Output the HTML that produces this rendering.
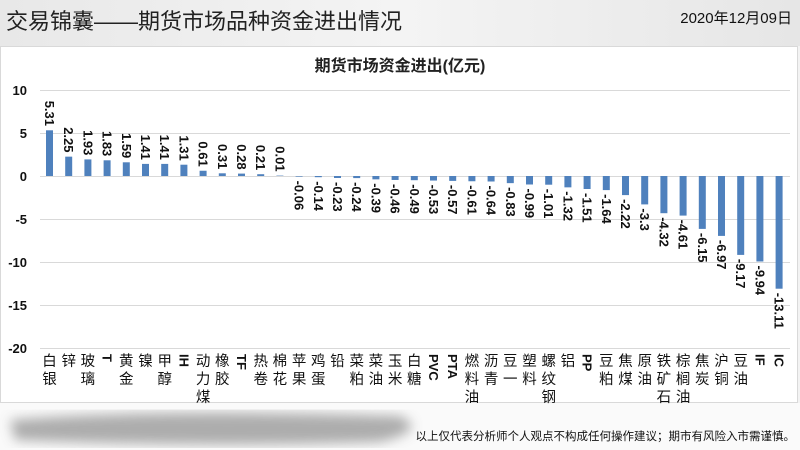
<!DOCTYPE html>
<html><head><meta charset="utf-8"><style>
html,body{margin:0;padding:0;width:800px;height:450px;overflow:hidden;background:#f3f3f3;font-family:"Liberation Sans","Noto Sans CJK SC",sans-serif}
</style></head><body>
<svg width="800" height="450" xmlns="http://www.w3.org/2000/svg" style="position:absolute;left:0;top:0">
<defs>
<linearGradient id="hd" x1="0" x2="1"><stop offset="0" stop-color="#e8e8e8"/><stop offset=".5" stop-color="#f4f4f4"/><stop offset="1" stop-color="#e6e6e6"/></linearGradient>
<filter id="bl"><feGaussianBlur stdDeviation="6"/></filter>
</defs>
<rect x="0" y="0" width="800" height="46" fill="url(#hd)"/>
<rect x="0" y="403" width="800" height="47" fill="#fafafa"/>
<path d="M10 420 Q150 408 400 416 Q430 430 380 442 Q200 448 15 440 Z" fill="#9a9a9a" filter="url(#bl)" opacity=".8"/>
<text x="6" y="29" font-size="22" fill="#222" font-family="Liberation Sans,Noto Sans CJK SC,sans-serif">交易锦囊——期货市场品种资金进出情况</text>
<text x="792" y="23" font-size="15" fill="#111" text-anchor="end">2020年12月09日</text>
<text x="795" y="440" font-size="11.5" fill="#111" text-anchor="end">以上仅代表分析师个人观点不构成任何操作建议；期市有风险入市需谨慎。</text>
<rect x="0.5" y="46.5" width="797" height="356" fill="#fff" stroke="#d9d9d9"/>
<text x="400" y="71" font-size="16" font-weight="bold" text-anchor="middle" fill="#222">期货市场资金进出(亿元)</text>
<g stroke="#d9d9d9" stroke-width="1">
<line x1="40" x2="790" y1="90.5" y2="90.5"/><line x1="40" x2="790" y1="133.5" y2="133.5"/><line x1="40" x2="790" y1="176.5" y2="176.5"/><line x1="40" x2="790" y1="219.5" y2="219.5"/><line x1="40" x2="790" y1="262.5" y2="262.5"/><line x1="40" x2="790" y1="305.5" y2="305.5"/><line x1="40" x2="790" y1="348.5" y2="348.5"/>
</g>
<g font-size="13" font-weight="bold" text-anchor="end" fill="#111">
<text x="27" y="95">10</text><text x="27" y="138">5</text><text x="27" y="181">0</text><text x="27" y="224">-5</text><text x="27" y="267">-10</text><text x="27" y="310">-15</text><text x="27" y="353">-20</text>
</g>
<g fill="#4f81bd">
<rect x="46" y="130.3" width="7" height="45.7"/>
<rect x="65.2" y="156.65" width="7" height="19.35"/>
<rect x="84.4" y="159.4" width="7" height="16.6"/>
<rect x="103.6" y="160.3" width="7" height="15.7"/>
<rect x="122.8" y="162.3" width="7" height="13.7"/>
<rect x="142" y="163.9" width="7" height="12.1"/>
<rect x="161.2" y="163.9" width="7" height="12.1"/>
<rect x="180.4" y="164.7" width="7" height="11.3"/>
<rect x="199.6" y="170.75" width="7" height="5.25"/>
<rect x="218.8" y="173.3" width="7" height="2.7"/>
<rect x="238" y="173.6" width="7" height="2.4"/>
<rect x="257.2" y="174.2" width="7" height="1.8"/>
<rect x="276.4" y="175.6" width="7" height="0.4"/>
<rect x="295.6" y="176" width="7" height="0.6"/>
<rect x="314.8" y="176" width="7" height="1.2"/>
<rect x="334" y="176" width="7" height="2"/>
<rect x="353.2" y="176" width="7" height="2.1"/>
<rect x="372.4" y="176" width="7" height="3.35"/>
<rect x="391.6" y="176" width="7" height="3.96"/>
<rect x="410.8" y="176" width="7" height="4.2"/>
<rect x="430" y="176" width="7" height="4.56"/>
<rect x="449.2" y="176" width="7" height="4.9"/>
<rect x="468.4" y="176" width="7" height="5.25"/>
<rect x="487.6" y="176" width="7" height="5.5"/>
<rect x="506.8" y="176" width="7" height="7.14"/>
<rect x="526" y="176" width="7" height="8.5"/>
<rect x="545.2" y="176" width="7" height="8.7"/>
<rect x="564.4" y="176" width="7" height="11.35"/>
<rect x="583.6" y="176" width="7" height="13"/>
<rect x="602.8" y="176" width="7" height="14.1"/>
<rect x="622" y="176" width="7" height="19.1"/>
<rect x="641.2" y="176" width="7" height="28.4"/>
<rect x="660.4" y="176" width="7" height="37.2"/>
<rect x="679.6" y="176" width="7" height="39.6"/>
<rect x="698.8" y="176" width="7" height="52.9"/>
<rect x="718" y="176" width="7" height="59.9"/>
<rect x="737.2" y="176" width="7" height="78.9"/>
<rect x="756.4" y="176" width="7" height="85.5"/>
<rect x="775.6" y="176" width="7" height="112.7"/>
</g>
<g font-size="13" font-weight="bold" fill="#111" dominant-baseline="central">
<text text-anchor="end" transform="translate(49.5,126) rotate(90)">5.31</text>
<text text-anchor="end" transform="translate(68.7,152.5) rotate(90)">2.25</text>
<text text-anchor="end" transform="translate(87.9,155.4) rotate(90)">1.93</text>
<text text-anchor="end" transform="translate(107.1,156.3) rotate(90)">1.83</text>
<text text-anchor="end" transform="translate(126.3,158.3) rotate(90)">1.59</text>
<text text-anchor="end" transform="translate(145.5,159.9) rotate(90)">1.41</text>
<text text-anchor="end" transform="translate(164.7,159.9) rotate(90)">1.41</text>
<text text-anchor="end" transform="translate(183.9,160.7) rotate(90)">1.31</text>
<text text-anchor="end" transform="translate(203.1,166.7) rotate(90)">0.61</text>
<text text-anchor="end" transform="translate(222.3,169.3) rotate(90)">0.31</text>
<text text-anchor="end" transform="translate(241.5,169.6) rotate(90)">0.28</text>
<text text-anchor="end" transform="translate(260.7,170.2) rotate(90)">0.21</text>
<text text-anchor="end" transform="translate(279.9,171.6) rotate(90)">0.01</text>
<text transform="translate(299.1,180.6) rotate(90)">-0.06</text>
<text transform="translate(318.3,181.2) rotate(90)">-0.14</text>
<text transform="translate(337.5,182) rotate(90)">-0.23</text>
<text transform="translate(356.7,182.1) rotate(90)">-0.24</text>
<text transform="translate(375.9,183.3) rotate(90)">-0.39</text>
<text transform="translate(395.1,184) rotate(90)">-0.46</text>
<text transform="translate(414.3,184.2) rotate(90)">-0.49</text>
<text transform="translate(433.5,184.6) rotate(90)">-0.53</text>
<text transform="translate(452.7,184.9) rotate(90)">-0.57</text>
<text transform="translate(471.9,185.2) rotate(90)">-0.61</text>
<text transform="translate(491.1,185.5) rotate(90)">-0.64</text>
<text transform="translate(510.3,187.1) rotate(90)">-0.83</text>
<text transform="translate(529.5,188.5) rotate(90)">-0.99</text>
<text transform="translate(548.7,188.7) rotate(90)">-1.01</text>
<text transform="translate(567.9,191.3) rotate(90)">-1.32</text>
<text transform="translate(587.1,193) rotate(90)">-1.51</text>
<text transform="translate(606.3,194.1) rotate(90)">-1.64</text>
<text transform="translate(625.5,199.1) rotate(90)">-2.22</text>
<text transform="translate(644.7,208.4) rotate(90)">-3.3</text>
<text transform="translate(663.9,217.2) rotate(90)">-4.32</text>
<text transform="translate(683.1,219.6) rotate(90)">-4.61</text>
<text transform="translate(702.3,232.9) rotate(90)">-6.15</text>
<text transform="translate(721.5,239.9) rotate(90)">-6.97</text>
<text transform="translate(740.7,258.9) rotate(90)">-9.17</text>
<text transform="translate(759.9,265.5) rotate(90)">-9.94</text>
<text transform="translate(779.1,292.7) rotate(90)">-13.11</text>
</g>
<g font-size="14.5" fill="#111" text-anchor="middle" font-family="Liberation Sans,Noto Sans CJK SC,sans-serif">
<text x="49.5" y="366">白</text><text x="49.5" y="384">银</text>
<text x="68.7" y="366">锌</text>
<text x="87.9" y="366">玻</text><text x="87.9" y="384">璃</text>
<text x="126.3" y="366">黄</text><text x="126.3" y="384">金</text>
<text x="145.5" y="366">镍</text>
<text x="164.7" y="366">甲</text><text x="164.7" y="384">醇</text>
<text x="203.1" y="366">动</text><text x="203.1" y="384">力</text><text x="203.1" y="402">煤</text>
<text x="222.3" y="366">橡</text><text x="222.3" y="384">胶</text>
<text x="260.7" y="366">热</text><text x="260.7" y="384">卷</text>
<text x="279.9" y="366">棉</text><text x="279.9" y="384">花</text>
<text x="299.1" y="366">苹</text><text x="299.1" y="384">果</text>
<text x="318.3" y="366">鸡</text><text x="318.3" y="384">蛋</text>
<text x="337.5" y="366">铅</text>
<text x="356.7" y="366">菜</text><text x="356.7" y="384">粕</text>
<text x="375.9" y="366">菜</text><text x="375.9" y="384">油</text>
<text x="395.1" y="366">玉</text><text x="395.1" y="384">米</text>
<text x="414.3" y="366">白</text><text x="414.3" y="384">糖</text>
<text x="471.9" y="366">燃</text><text x="471.9" y="384">料</text><text x="471.9" y="402">油</text>
<text x="491.1" y="366">沥</text><text x="491.1" y="384">青</text>
<text x="510.3" y="366">豆</text><text x="510.3" y="384">一</text>
<text x="529.5" y="366">塑</text><text x="529.5" y="384">料</text>
<text x="548.7" y="366">螺</text><text x="548.7" y="384">纹</text><text x="548.7" y="402">钢</text>
<text x="567.9" y="366">铝</text>
<text x="606.3" y="366">豆</text><text x="606.3" y="384">粕</text>
<text x="625.5" y="366">焦</text><text x="625.5" y="384">煤</text>
<text x="644.7" y="366">原</text><text x="644.7" y="384">油</text>
<text x="663.9" y="366">铁</text><text x="663.9" y="384">矿</text><text x="663.9" y="402">石</text>
<text x="683.1" y="366">棕</text><text x="683.1" y="384">榈</text><text x="683.1" y="402">油</text>
<text x="702.3" y="366">焦</text><text x="702.3" y="384">炭</text>
<text x="721.5" y="366">沪</text><text x="721.5" y="384">铜</text>
<text x="740.7" y="366">豆</text><text x="740.7" y="384">油</text>
</g>
<g font-size="13" font-weight="bold" fill="#111" dominant-baseline="central">
<text transform="translate(107.1,354) rotate(90)">T</text>
<text transform="translate(183.9,354) rotate(90)">IH</text>
<text transform="translate(241.5,354) rotate(90)">TF</text>
<text transform="translate(433.5,354) rotate(90)">PVC</text>
<text transform="translate(452.7,354) rotate(90)">PTA</text>
<text transform="translate(587.1,354) rotate(90)">PP</text>
<text transform="translate(759.9,354) rotate(90)">IF</text>
<text transform="translate(779.1,354) rotate(90)">IC</text>
</g>
</svg>
</body></html>
